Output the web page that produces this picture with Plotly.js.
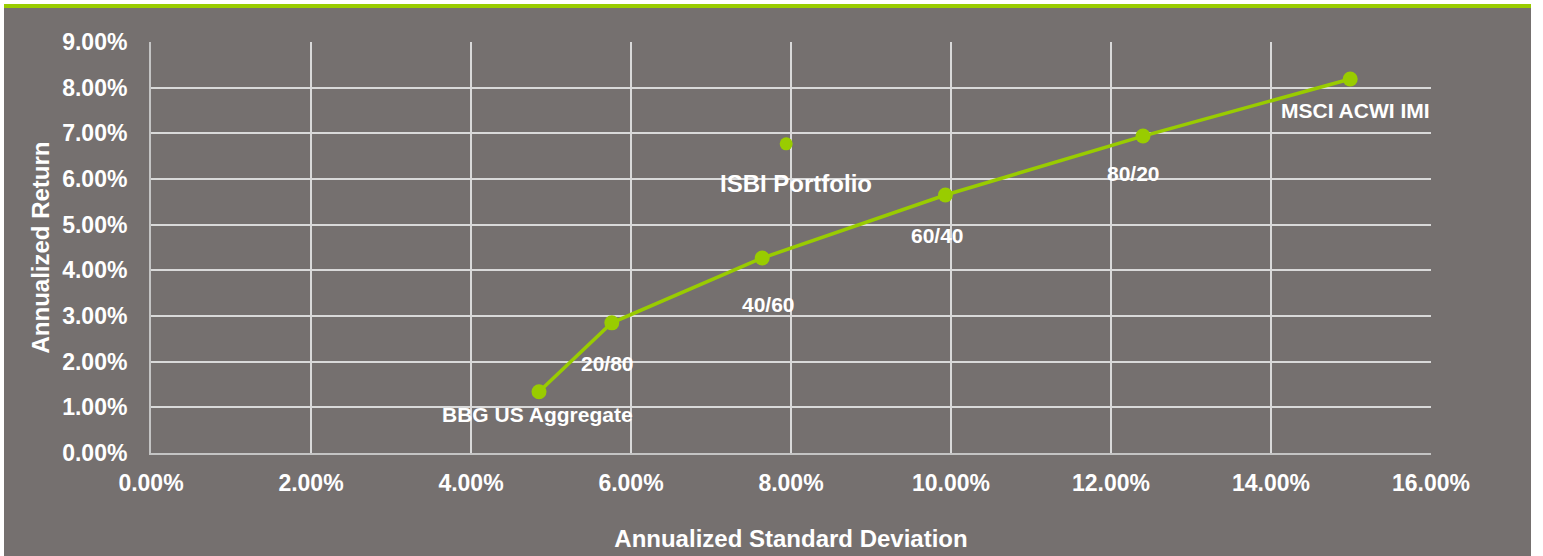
<!DOCTYPE html>
<html>
<head>
<meta charset="utf-8">
<script src="https://cdn.plot.ly/plotly-3.0.1.min.js"></script>
<style>
  html, body { margin: 0; padding: 0; background: #ffffff; width: 1543px; height: 556px; overflow: hidden; }
  #topbar { position: absolute; left: 4px; top: 4px; width: 1527px; height: 4px; background: #99CC00; }
  #chart { position: absolute; left: 4px; top: 8px; width: 1527px; height: 548px; }
</style>
</head>
<body>
<div id="topbar"></div>
<div id="chart"></div>
<script>
// Efficient frontier (annualized standard deviation %, annualized return %)
const frontierLabels = ["BBG US Aggregate", "20/80", "40/60", "60/40", "80/20", "MSCI ACWI IMI"];
const frontierStdDev = [4.85, 5.76, 7.64, 9.93, 12.40, 14.99];
const frontierReturn = [1.34, 2.85, 4.27, 5.65, 6.94, 8.19];

const portfolioLabel = ["ISBI Portfolio"];
const portfolioStdDev = [7.94];
const portfolioReturn = [6.77];

const xTickValues = [0, 2, 4, 6, 8, 10, 12, 14, 16];
const xTickLabels = ["0.00%", "2.00%", "4.00%", "6.00%", "8.00%", "10.00%", "12.00%", "14.00%", "16.00%"];
const yTickValues = [0, 1, 2, 3, 4, 5, 6, 7, 8, 9];
const yTickLabels = ["0.00%", "1.00%", "2.00%", "3.00%", "4.00%", "5.00%", "6.00%", "7.00%", "8.00%", "9.00%"];

const GREEN = "#99CC00";
const BG = "#75706F";
const FONT = "Liberation Sans, Arial, Helvetica, sans-serif";

// label offsets in pixels (style only)
const frontierShift = [[-2, -23], [-4, -41], [6, -46], [-8, -41], [-10, -37], [5, -32]];
const portfolioShift = [[10, -40]];

const annotations = [];
frontierLabels.forEach((t, i) => {
  annotations.push({
    x: frontierStdDev[i], y: frontierReturn[i], xref: "x", yref: "y",
    text: t, showarrow: false,
    xshift: frontierShift[i][0], yshift: frontierShift[i][1],
    font: {family: FONT, size: 21, color: "#ffffff", weight: "bold"}
  });
});
portfolioLabel.forEach((t, i) => {
  annotations.push({
    x: portfolioStdDev[i], y: portfolioReturn[i], xref: "x", yref: "y",
    text: t, showarrow: false,
    xshift: portfolioShift[i][0], yshift: portfolioShift[i][1],
    font: {family: FONT, size: 24, color: "#ffffff", weight: "bold"}
  });
});

const traces = [
  {
    type: "scatter", mode: "lines+markers",
    x: frontierStdDev, y: frontierReturn, text: frontierLabels,
    line: {color: GREEN, width: 3.5},
    marker: {color: GREEN, size: 15},
    hoverinfo: "text+x+y", cliponaxis: false
  },
  {
    type: "scatter", mode: "markers",
    x: portfolioStdDev, y: portfolioReturn, text: portfolioLabel,
    marker: {color: GREEN, size: 13},
    hoverinfo: "text+x+y", cliponaxis: false
  }
];

const tickFont = {family: FONT, size: 23, color: "#ffffff", weight: "bold"};
const titleFont = {family: FONT, size: 24, color: "#ffffff", weight: "bold"};

const layout = {
  width: 1527, height: 548,
  paper_bgcolor: BG, plot_bgcolor: BG,
  showlegend: false,
  margin: {l: 147, r: 100, t: 34, b: 103},
  xaxis: {
    range: [0, 16], tickmode: "array", tickvals: xTickValues, ticktext: xTickLabels,
    showgrid: true, gridcolor: "#D9D9D9", gridwidth: 2,
    showline: true, linecolor: "#C4C4C4", linewidth: 2,
    zeroline: false, ticks: "outside", ticklen: 8, tickcolor: "rgba(0,0,0,0)",
    tickfont: tickFont,
    title: {text: "Annualized Standard Deviation", font: titleFont, standoff: 36}
  },
  yaxis: {
    range: [0, 9], tickmode: "array", tickvals: yTickValues, ticktext: yTickLabels,
    showgrid: true, gridcolor: "#D9D9D9", gridwidth: 2,
    showline: true, linecolor: "#C4C4C4", linewidth: 2,
    zeroline: false, ticks: "outside", ticklen: 17, tickcolor: "rgba(0,0,0,0)",
    tickfont: tickFont,
    title: {text: "Annualized Return", font: titleFont, standoff: 6}
  },
  annotations: annotations
};

Plotly.newPlot("chart", traces, layout, {displayModeBar: false, staticPlot: true});
</script>
</body>
</html>
